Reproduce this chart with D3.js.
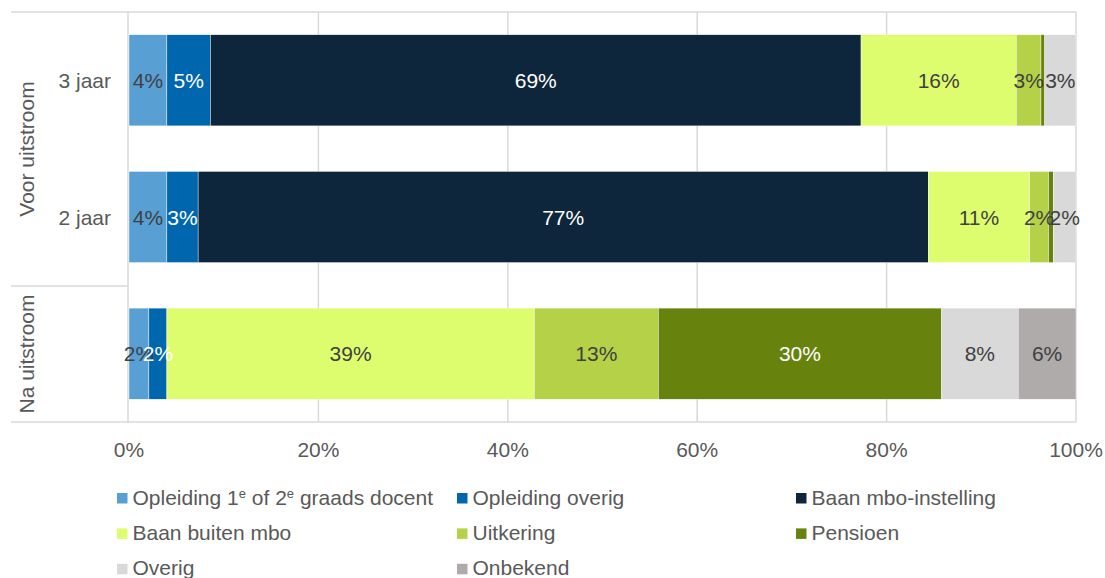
<!DOCTYPE html>
<html><head><meta charset="utf-8">
<script src="https://cdn.jsdelivr.net/npm/d3@7"></script>
<style>body{margin:0;background:#fff}svg{display:block;font-family:"Liberation Sans",Arial,sans-serif}</style>
</head><body><svg id="c" width="1105" height="578"></svg>
<script>
const categories = ["3 jaar", "2 jaar", ""];
const groups = ["Voor uitstroom", "Voor uitstroom", "Na uitstroom"];
const seriesNames = ["Opleiding 1e of 2e graads docent", "Opleiding overig", "Baan mbo-instelling", "Baan buiten mbo", "Uitkering", "Pensioen", "Overig", "Onbekend"];
const opleiding12 = [4.0, 4.0, 2.1];
const opleidingOverig = [4.6, 3.3, 1.9];
const baanMbo = [68.7, 77.1, 0];
const baanBuiten = [16.4, 10.7, 38.8];
const uitkering = [2.6, 2.0, 13.1];
const pensioen = [0.4, 0.5, 29.9];
const overig = [3.3, 2.4, 8.1];
const onbekend = [0, 0, 6.1];
const ticks = [0, 0.2, 0.4, 0.6, 0.8, 1.0];

const seriesValues = [opleiding12, opleidingOverig, baanMbo, baanBuiten, uitkering, pensioen, overig, onbekend];
const colors = ["#589FD4", "#0067AF", "#0D263B", "#DEFD6E", "#B5D148", "#68820E", "#D9D9D9", "#AFABAB"];
const labelColors = ["#404040", "#fff", "#fff", "#404040", "#404040", "#fff", "#404040", "#404040"];
const FS = 21;

const svg = d3.select("#c");
const x = d3.scaleLinear().domain([0, 1]).range([129, 1076]);
const ids = categories.map((c, i) => "r" + i);
const y = d3.scaleBand().domain(ids).range([12, 422]).paddingInner(1/3).paddingOuter(1/6);

const grid = "#D9D9D9";
svg.append("g").selectAll("line").data(ticks.slice(1)).join("line")
  .attr("x1", d => x(d)).attr("x2", d => x(d)).attr("y1", 12).attr("y2", 422)
  .attr("stroke", grid).attr("stroke-width", 1.5);
svg.append("line").attr("x1", 11).attr("x2", 1076).attr("y1", 12).attr("y2", 12).attr("stroke", grid).attr("stroke-width", 1.5);
svg.append("line").attr("x1", 11).attr("x2", 1076).attr("y1", 422).attr("y2", 422).attr("stroke", grid).attr("stroke-width", 1.5);
svg.append("line").attr("x1", 11).attr("x2", 128).attr("y1", 286).attr("y2", 286).attr("stroke", grid).attr("stroke-width", 1.5);
svg.append("line").attr("x1", 128).attr("x2", 128).attr("y1", 12).attr("y2", 422).attr("stroke", grid).attr("stroke-width", 1.5);

const rows = ids.map((id, i) => {
  let acc = 0;
  return seriesValues.map((s, k) => {
    const v = s[i] / 100; const seg = {id, k, x0: acc, x1: acc + v, v: s[i]}; acc += v; return seg;
  });
});
const segs = rows.flat().filter(d => d.v > 0);
svg.append("g").selectAll("rect").data(segs).join("rect")
  .attr("x", d => x(d.x0)).attr("width", d => x(d.x1) - x(d.x0))
  .attr("y", d => y(d.id)).attr("height", y.bandwidth())
  .attr("fill", d => colors[d.k]).attr("stroke", "#fff").attr("stroke-width", 0.4);
svg.append("g").selectAll("text").data(segs.filter(d => d.v >= 1)).join("text")
  .attr("x", d => x((d.x0 + d.x1) / 2)).attr("y", d => y(d.id) + y.bandwidth() / 2 + 7.5)
  .attr("text-anchor", "middle").attr("font-size", FS).attr("fill", d => labelColors[d.k])
  .text(d => Math.round(d.v) + "%");

svg.append("g").selectAll("text").data(ids).join("text")
  .attr("x", 111).attr("y", d => y(d) + y.bandwidth() / 2 + 7.5).attr("text-anchor", "end")
  .attr("font-size", FS).attr("fill", "#595959").text((d, i) => categories[i]);
const groupSpans = [{name: groups[0], y0: 12, y1: 286}, {name: groups[2], y0: 286, y1: 422}];
svg.append("g").selectAll("text").data(groupSpans).join("text")
  .attr("transform", d => `translate(34,${(d.y0 + d.y1) / 2}) rotate(-90)`)
  .attr("text-anchor", "middle").attr("font-size", FS).attr("fill", "#595959").text(d => d.name);

svg.append("g").selectAll("text").data(ticks).join("text")
  .attr("x", d => x(d)).attr("y", 457).attr("text-anchor", "middle")
  .attr("font-size", FS).attr("fill", "#595959").text(d => d3.format(".0%")(d));

const legendCols = [117, 457, 796];
const legendPos = [[0, 0], [1, 0], [2, 0], [0, 1], [1, 1], [2, 1], [0, 2], [1, 2]];
const lg = svg.append("g").selectAll("g").data(seriesNames).join("g")
  .attr("transform", (d, i) => `translate(${legendCols[legendPos[i][0]]},${493 + legendPos[i][1] * 35.4})`);
lg.append("rect").attr("width", 10.5).attr("height", 10.5).attr("fill", (d, i) => colors[i]);
lg.each(function(d, i) {
  const t = d3.select(this).append("text").attr("x", 15.5).attr("y", 11.5)
    .attr("font-size", FS).attr("fill", "#595959");
  if (i === 0) {
    t.append("tspan").text("Opleiding 1");
    t.append("tspan").attr("font-size", 13).attr("dy", -7).text("e");
    t.append("tspan").attr("dy", 7).text(" of 2");
    t.append("tspan").attr("font-size", 13).attr("dy", -7).text("e");
    t.append("tspan").attr("dy", 7).text(" graads docent");
  } else t.text(d);
});
</script></body></html>
